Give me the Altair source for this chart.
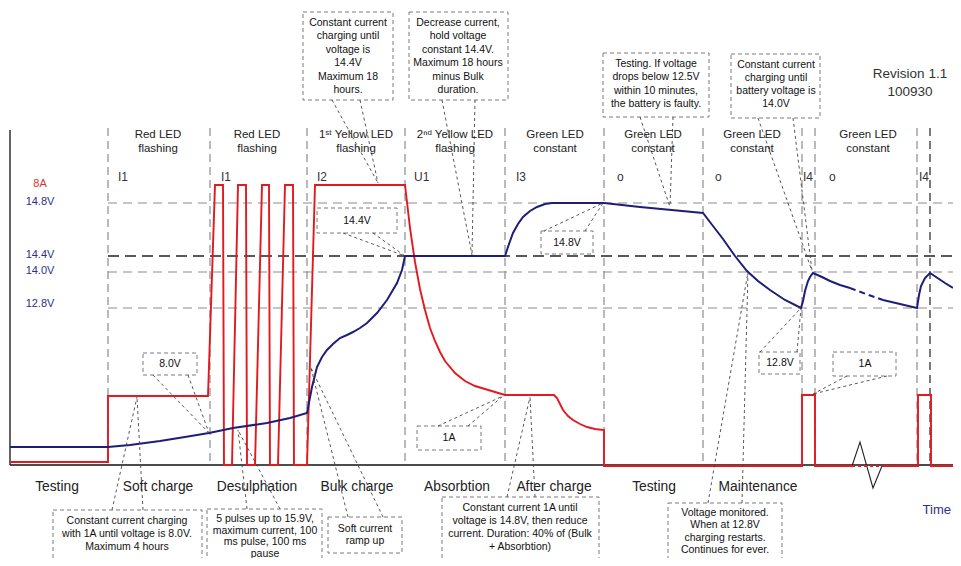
import altair as alt
import pandas as pd

# ---------------- schematic data (time units horizontally, level units vertically) ----------------
stage_bounds = [108, 210, 307, 405, 505, 604, 703, 802, 815, 917, 930]
stage_dark = [False, False, False, False, False, False, False, False, False, False, True]

phase_names = ["Testing", "Soft charge", "Desulphation", "Bulk charge", "Absorbtion",
               "After charge", "Testing", "Maintenance"]
phase_t = [57, 158, 257, 357, 457, 554, 654, 758]

led_line1 = ["Red LED", "Red LED", "1ˢᵗ Yellow LED", "2ⁿᵈ Yellow LED", "Green LED",
             "Green LED", "Green LED", "Green LED"]
led_line2 = ["flashing", "flashing", "flashing", "flashing", "constant",
             "constant", "constant", "constant"]
led_t = [158, 257, 356, 455, 555, 653, 752, 868]

modes = ["I1", "I1", "I2", "U1", "I3", "o", "o", "I4", "o", "I4"]
mode_t = [118, 221, 317, 414, 516, 617, 715, 803, 829, 919]

level_names = ["14.8V", "14.4V", "14.0V", "12.8V"]
level_v = [203, 256, 272, 308]
label_v = [202, 255, 271, 304]
current_label = "8A"
current_label_v = 184

# current (red) trace
red_t = [10, 108, 108, 208, 215, 223, 224, 232, 238, 246, 247, 255, 262, 269, 270, 278, 285, 293,
         294, 307, 315, 405, 410, 415, 420, 425, 430, 435, 440, 445, 455, 465, 475, 485, 495, 505,
         554, 557, 560, 563, 568, 573, 580, 587, 595, 604, 604, 802, 802, 815, 815, 852]
red_v = [462, 462, 396, 396, 185, 185, 465, 465, 185, 185, 465, 465, 185, 185, 465, 465, 185, 185,
         465, 465, 185, 185, 228, 262, 289, 310, 328, 341, 352, 361, 373, 381, 386, 389, 392, 395,
         395, 398, 404, 410, 416, 420, 424, 427, 429, 430, 466, 466, 395, 395, 466, 466]
red_gap_t = [852, 882]
red_gap_v = [466, 466]
red_tail_t = [882, 918, 918, 931, 931, 953]
red_tail_v = [466, 466, 395, 395, 466, 466]

# voltage (blue) trace
blue_t = [10, 108, 130, 160, 185, 209, 233, 267, 290, 307, 312, 317, 322, 327, 333, 340, 347, 353,
          360, 367, 377, 387, 397, 402, 405, 505, 509, 513, 518, 523, 530, 537, 545, 552, 604, 640,
          703, 713, 723, 735, 747, 758, 770, 785, 801, 803, 805, 808, 810, 813, 822, 830, 840, 850]
blue_v = [447, 447, 445, 441, 437, 433, 428, 423, 418, 413, 387, 367, 357, 350, 344, 338, 335, 332,
          328, 323, 313, 300, 283, 270, 256, 256, 244, 233, 224, 217, 211, 207, 204, 203, 203, 207,
          213, 226, 239, 256, 271, 281, 290, 300, 308, 301, 291, 281, 277, 273, 277, 281, 285, 288]
blue_gap_t = [850, 866, 883]
blue_gap_v = [288, 294, 300]
blue_tail_t = [883, 900, 917, 919, 921, 925, 930, 945, 953]
blue_tail_v = [300, 304, 308, 295, 286, 278, 273, 283, 288]

# time-axis break (zigzag)
zig_t = [852, 860, 873, 882]
zig_v = [466, 442, 488, 466]

# annotation boxes
box_t1 = [303, 409, 603, 731, 317, 541, 143, 53, 207, 328, 417, 442, 668, 759, 833]
box_t2 = [393, 508, 709, 820, 397, 593, 197, 202, 322, 402, 481, 599, 782, 800, 896]
box_v1 = [12, 12, 53, 54, 208, 231, 353, 510, 509, 517, 426, 497, 503, 352, 352]
box_v2 = [100, 100, 117, 118, 233, 254, 375, 560, 575, 553, 450, 563, 575, 374, 376]
box_lines = [
    ["Constant current", "charging until", "voltage is", "14.4V", "Maximum 18", "hours."],
    ["Decrease current,", "hold voltage", "constant 14.4V.", "Maximum 18 hours", "minus Bulk", "duration."],
    ["Testing. If voltage", "drops below 12.5V", "within 10 minutes,", "the battery is faulty."],
    ["Constant current", "charging until", "battery voltage is", "14.0V"],
    ["14.4V"],
    ["14.8V"],
    ["8.0V"],
    ["Constant current charging", "with 1A until voltage is 8.0V.", "Maximum 4 hours"],
    ["5 pulses up to 15.9V,", "maximum current, 100", "ms pulse, 100 ms", "pause"],
    ["Soft current", "ramp up"],
    ["1A"],
    ["Constant current 1A until", "voltage is 14.8V, then reduce", "current. Duration: 40% of (Bulk", "+ Absorbtion)"],
    ["Voltage monitored.", "When at 12.8V", "charging restarts.", "Continues for ever."],
    ["12.8V"],
    ["1A"],
]
box_text_t = [348, 458, 656, 776, 357, 567, 170, 127, 265, 365, 449, 520, 725, 780, 865]
box_text_v = [23, 23, 64, 65, 221, 243, 364, 521, 519, 529, 438, 508, 513, 363, 364]
box_text_step = [13.4, 13.4, 13.4, 13, 13, 13, 13, 13, 11.6, 12, 13, 13, 12.3, 13, 13]
# leader targets (point on the trace that each box refers to)
target_t = [378, 472, 670, 812, 405, 603, 209, 137, 238, 311, 503, 530, 748, 801, 813]
target_v = [183, 255, 207, 271, 256, 203, 433, 397, 430, 368, 396, 397, 272, 308, 394]
leader_from_t = [(332, 360), (442, 475), (640, 673), (758, 793), (343, 373), (544, 585), (153, 188),
                 (112, 143), (247, 280), (348, 383), (438, 468), (507, 535), (708, 742), (760, 797),
                 (847, 887)]
leader_from_v = [100, 100, 117, 118, 233, 231, 375, 510, 509, 517, 426, 497, 503, 352, 376]

revision = ["Revision 1.1", "100930"]
time_label = "Time"

# ---------------- styling ----------------
FONT = "Liberation Sans"
RED = "#e3191f"
NAVY = "#1e1e78"
NAVY_TXT = "#2e2e8c"

xs = alt.Scale(domain=[8, 953], nice=False, zero=False)
ys = alt.Scale(domain=[8, 558], nice=False, zero=False, reverse=True)


def X(f="t"):
    return alt.X(f"{f}:Q", scale=xs, axis=None)


def Y(f="v"):
    return alt.Y(f"{f}:Q", scale=ys, axis=None)


layers = []

# stage separators
sep = pd.DataFrame({"t": stage_bounds, "v": 128, "v2": 465, "dark": stage_dark})
layers.append(alt.Chart(sep[~sep.dark]).mark_rule(color="#8c8c8c", strokeWidth=1.2, strokeDash=[8, 5])
              .encode(x=X(), y=Y(), y2=alt.Y2("v2:Q")))
layers.append(alt.Chart(sep[sep.dark]).mark_rule(color="#222222", strokeWidth=1.2, strokeDash=[8, 5])
              .encode(x=X(), y=Y(), y2=alt.Y2("v2:Q")))

# voltage level lines
lv = pd.DataFrame({"t": 108, "t2": 953, "v": level_v, "name": level_names})
layers.append(alt.Chart(lv[lv.name != "14.4V"]).mark_rule(color="#8c8c8c", strokeWidth=1.2, strokeDash=[9, 6])
              .encode(x=X(), x2=alt.X2("t2:Q"), y=Y()))
layers.append(alt.Chart(lv[lv.name == "14.4V"]).mark_rule(color="#222222", strokeWidth=1.3, strokeDash=[11, 6])
              .encode(x=X(), x2=alt.X2("t2:Q"), y=Y()))

# axes
ax = pd.DataFrame({"t": [10, 10], "t2": [10, 953], "v": [130, 465], "v2": [465, 465]})
layers.append(alt.Chart(ax).mark_rule(color="#111111", strokeWidth=1.3)
              .encode(x=X(), x2=alt.X2("t2:Q"), y=Y(), y2=alt.Y2("v2:Q")))


def line_df(ts, vs, seg):
    return pd.DataFrame({"t": ts, "v": vs, "i": range(len(ts)), "seg": seg})


zig = line_df(zig_t, zig_v, "z")
layers.append(alt.Chart(zig).mark_line(color="#222222", strokeWidth=1.1)
              .encode(x=X(), y=Y(), order="i:Q"))

red = pd.concat([line_df(red_t, red_v, "a"), line_df(red_tail_t, red_tail_v, "b")])
layers.append(alt.Chart(red).mark_line(color=RED, strokeWidth=1.9)
              .encode(x=X(), y=Y(), order="i:Q", detail="seg:N"))
layers.append(alt.Chart(line_df(red_gap_t, red_gap_v, "g")).mark_line(color=RED, strokeWidth=1.9, strokeDash=[3, 3])
              .encode(x=X(), y=Y(), order="i:Q"))

blue = pd.concat([line_df(blue_t, blue_v, "a"), line_df(blue_tail_t, blue_tail_v, "b")])
layers.append(alt.Chart(blue).mark_line(color=NAVY, strokeWidth=2)
              .encode(x=X(), y=Y(), order="i:Q", detail="seg:N"))
layers.append(alt.Chart(line_df(blue_gap_t, blue_gap_v, "g")).mark_line(color=NAVY, strokeWidth=2, strokeDash=[6, 4])
              .encode(x=X(), y=Y(), order="i:Q"))

# boxes
boxes = pd.DataFrame({"t": box_t1, "t2": box_t2, "v": box_v1, "v2": box_v2})
layers.append(alt.Chart(boxes).mark_rect(fill="white", stroke="#7a7a7a", strokeWidth=1, strokeDash=[4, 3])
              .encode(x=X(), x2=alt.X2("t2:Q"), y=Y(), y2=alt.Y2("v2:Q")))

# leader lines
rows = []
for k in range(len(target_t)):
    for ft in leader_from_t[k]:
        rows.append({"t": ft, "v": leader_from_v[k], "t2": target_t[k], "v2": target_v[k]})
leaders = pd.DataFrame(rows)
layers.append(alt.Chart(leaders).mark_rule(color="#444444", strokeWidth=0.9, strokeDash=[3, 3])
              .encode(x=X(), x2=alt.X2("t2:Q"), y=Y(), y2=alt.Y2("v2:Q")))


def text_layer(df, size, color, align="center"):
    return (alt.Chart(df).mark_text(font=FONT, fontSize=size, color=color, align=align, baseline="middle")
            .encode(x=X(), y=Y(), text="text:N"))


# box texts
rows = []
for k, lines in enumerate(box_lines):
    for j, s in enumerate(lines):
        rows.append({"t": box_text_t[k], "v": box_text_v[k] + j * box_text_step[k], "text": s})
layers.append(text_layer(pd.DataFrame(rows), 10.5, "#111111"))

# LED headers
hdr = pd.DataFrame({"t": led_t * 2, "v": [135] * len(led_t) + [149] * len(led_t),
                    "text": led_line1 + led_line2})
layers.append(text_layer(hdr, 11.5, "#222222"))

# mode labels
layers.append(text_layer(pd.DataFrame({"t": mode_t, "v": 177, "text": modes}), 12, "#333333", align="left"))

# phase labels
layers.append(text_layer(pd.DataFrame({"t": phase_t, "v": 487, "text": phase_names}), 13.8, "#222222"))

# level labels
layers.append(text_layer(pd.DataFrame({"t": 40, "v": label_v, "text": level_names}), 11, NAVY_TXT))
layers.append(text_layer(pd.DataFrame({"t": [40], "v": [current_label_v], "text": [current_label]}), 11, "#e03030"))

# time label and revision
layers.append(text_layer(pd.DataFrame({"t": [951], "v": [510], "text": [time_label]}), 13, NAVY_TXT, align="right"))
layers.append(text_layer(pd.DataFrame({"t": [910, 910], "v": [74, 92], "text": revision}), 13.5, "#333333"))

chart = (alt.layer(*layers)
         .properties(width=945, height=550, padding=0, autosize=alt.AutoSizeParams(type="none"),
                     background="white")
         .configure_view(stroke=None))

chart.save("out.html", embed_options={"renderer": "svg", "actions": False})
